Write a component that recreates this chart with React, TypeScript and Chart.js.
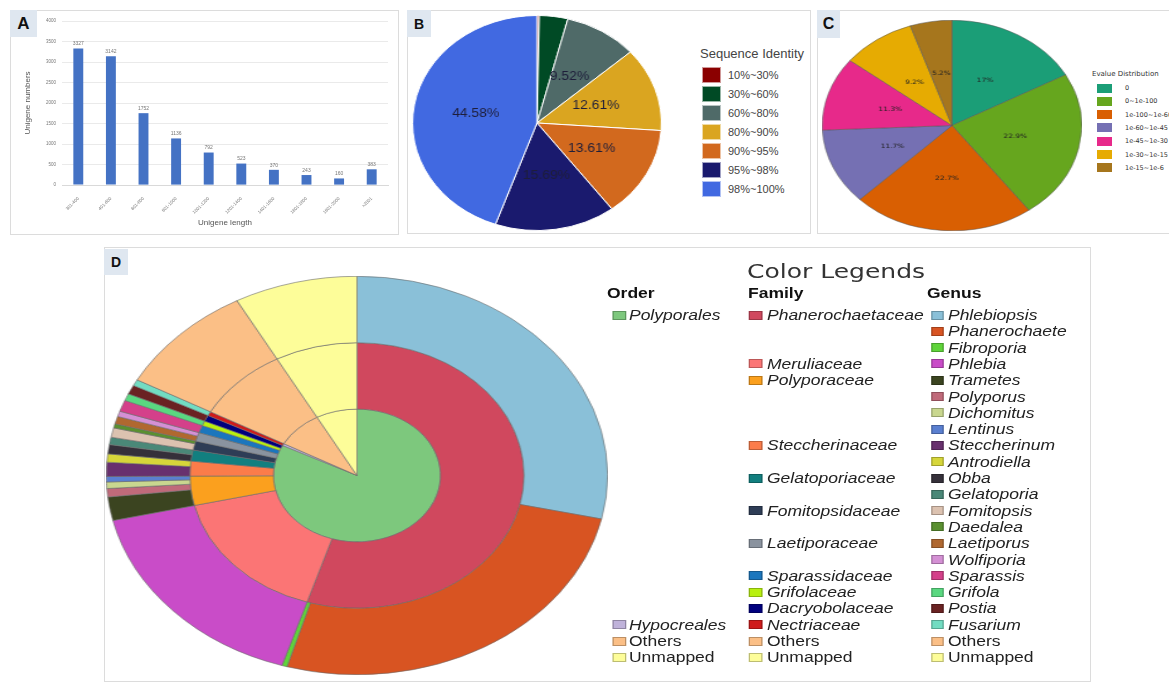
import React, { useEffect, useRef } from "react";
import { Chart, registerables } from "chart.js";

Chart.register(...registerables);
Chart.defaults.font.family = "'Liberation Sans', Arial, sans-serif";

// ---------- Panel A: unigene length distribution ----------
const lengthBins = ["301-400", "401-600", "601-800", "801-1000", "1001-1200", "1201-1400", "1401-1600", "1601-1800", "1801-2000", ">2001"];
const unigeneCounts = [3327, 3142, 1752, 1136, 792, 523, 370, 243, 160, 383];

// ---------- Panel B: sequence identity ----------
const identityBins = ["10%~30%", "30%~60%", "60%~80%", "80%~90%", "90%~95%", "95%~98%", "98%~100%"];
const identityPercents = [0.3, 3.69, 9.52, 12.61, 13.61, 15.69, 44.58];
const identityColors = ["#8b0000", "#004a25", "#4f6a68", "#daa520", "#d2691e", "#1a1a6e", "#4169e1"];

// ---------- Panel C: E-value distribution ----------
const evalueBins = ["0", "0~1e-100", "1e-100~1e-60", "1e-60~1e-45", "1e-45~1e-30", "1e-30~1e-15", "1e-15~1e-6"];
const evaluePercents = [17, 22.9, 22.7, 11.7, 11.3, 9.2, 5.2];
const evalueColors = ["#1b9e77", "#66a61e", "#d95f02", "#7570b3", "#e7298a", "#e6ab02", "#a6761d"];

// ---------- Panel D: taxonomy sunburst ----------
const orderNames = ["Polyporales", "Hypocreales", "Others", "Unmapped"];
const orderValues = [296.85, 1.8, 32.7, 28.6];
const orderColors = ["#7dc87d", "#bfb2da", "#fbbf86", "#fdfd99"];

const familyNames = ["Phanerochaetaceae", "Meruliaceae", "Polyporaceae", "Steccherinaceae", "Gelatoporiaceae", "Fomitopsidaceae", "Laetiporaceae", "Sparassidaceae", "Grifolaceae", "Dacryobolaceae", "Nectriaceae", "Others", "Unmapped"];
const familyValues = [197.4, 59.5, 12.8, 6.5, 4.85, 3.95, 3.8, 3.3, 2.05, 2.7, 1.8, 32.7, 28.6];
const familyColors = ["#d0485e", "#fb7575", "#fba01e", "#fb7c4a", "#127f7f", "#2e3d56", "#8a939f", "#1b76bd", "#b8f010", "#00007e", "#cf1b1b", "#fbbf86", "#fdfd99"];
const familyOrder = ["Polyporales", "Polyporales", "Polyporales", "Polyporales", "Polyporales", "Polyporales", "Polyporales", "Polyporales", "Polyporales", "Polyporales", "Hypocreales", "Others", "Unmapped"];

const genusNames = ["Phlebiopsis", "Phanerochaete", "Fibroporia", "Phlebia", "Trametes", "Polyporus", "Dichomitus", "Lentinus", "Steccherinum", "Antrodiella", "Obba", "Gelatoporia", "Fomitopsis", "Daedalea", "Laetiporus", "Wolfiporia", "Sparassis", "Grifola", "Postia", "Fusarium", "Others", "Unmapped"];
const genusValues = [102.6, 93.6, 1.2, 59.5, 6.85, 2.45, 1.9, 1.6, 4.1, 2.4, 2.7, 2.15, 2.75, 1.2, 2.2, 1.6, 3.3, 2.05, 2.7, 1.8, 32.7, 28.6];
const genusColors = ["#8ac0d8", "#d85422", "#5fd43a", "#c94cc8", "#3b4420", "#c06a7a", "#c9d78f", "#5a7fd0", "#68306e", "#d6d63a", "#35303a", "#4a8878", "#dcc2b0", "#5a9030", "#b06830", "#d490d4", "#d4408a", "#5ad880", "#6a2222", "#72dcc2", "#fbbf86", "#fdfd99"];
const genusFamily = ["Phanerochaetaceae", "Phanerochaetaceae", "Phanerochaetaceae", "Meruliaceae", "Polyporaceae", "Polyporaceae", "Polyporaceae", "Polyporaceae", "Steccherinaceae", "Steccherinaceae", "Gelatoporiaceae", "Gelatoporiaceae", "Fomitopsidaceae", "Fomitopsidaceae", "Laetiporaceae", "Laetiporaceae", "Sparassidaceae", "Grifolaceae", "Dacryobolaceae", "Nectriaceae", "Others", "Unmapped"];

const SANS = "'Liberation Sans', Arial, sans-serif";

function useChart(makeConfig: () => any) {
  const ref = useRef<HTMLCanvasElement | null>(null);
  useEffect(() => {
    if (!ref.current) return;
    const chart = new Chart(ref.current, makeConfig());
    return () => chart.destroy();
  }, []);
  return ref;
}

const barValuePlugin = {
  id: "barValues",
  afterDatasetsDraw(chart: any) {
    const ctx = chart.ctx;
    const meta = chart.getDatasetMeta(0);
    const values = chart.data.datasets[0].data;
    ctx.save();
    ctx.font = `5px ${SANS}`;
    ctx.fillStyle = "#777";
    ctx.textAlign = "center";
    ctx.textBaseline = "bottom";
    meta.data.forEach((el: any, i: number) => {
      ctx.fillText(String(values[i]), el.x, el.y - 2);
    });
    ctx.restore();
  },
};

function sliceLabelPlugin(font: string, color: string, minValue: number, fmt: (v: number) => string) {
  return {
    id: "sliceLabels",
    afterDatasetsDraw(chart: any) {
      const ctx = chart.ctx;
      const meta = chart.getDatasetMeta(0);
      const values = chart.data.datasets[0].data;
      ctx.save();
      ctx.font = font;
      ctx.fillStyle = color;
      ctx.textAlign = "center";
      ctx.textBaseline = "middle";
      meta.data.forEach((el: any, i: number) => {
        if (values[i] < minValue) return;
        const p = el.tooltipPosition(false);
        ctx.fillText(fmt(values[i]), p.x, p.y);
      });
      ctx.restore();
    },
  };
}

function BarPanel() {
  const ref = useChart(() => ({
    type: "bar",
    data: {
      labels: lengthBins,
      datasets: [{ data: unigeneCounts, backgroundColor: "#4472c4", barPercentage: 0.38, categoryPercentage: 0.8 }],
    },
    options: {
      animation: false,
      responsive: false,
      events: [],
      layout: { padding: { top: 11, right: 10, left: 0, bottom: 0 } },
      plugins: { legend: { display: false }, tooltip: { enabled: false } },
      scales: {
        x: {
          grid: { display: false },
          border: { color: "#d9d9d9" },
          ticks: { font: { size: 4.5 }, color: "#777", minRotation: 45, maxRotation: 45, autoSkip: false, padding: 3 },
          title: { display: true, text: "Unigene length", font: { size: 8 }, color: "#555", padding: { top: 0, bottom: 7 } },
          afterFit: (s: any) => { s.height = 50; },
        },
        y: {
          min: 0,
          max: 4000,
          ticks: { stepSize: 500, font: { size: 4.5 }, color: "#777", padding: 6, callback: (v: any) => String(v) },
          grid: { color: "#e4e4e4", drawTicks: false, lineWidth: 0.8 },
          border: { display: false },
          title: { display: true, text: "Unigene numbers", font: { size: 8 }, color: "#555", padding: { top: 13, bottom: 0 } },
          afterFit: (s: any) => { s.width = 52; },
        },
      },
    },
    plugins: [barValuePlugin],
  }));
  return <canvas ref={ref} width={388} height={225} style={{ position: "absolute", left: 10, top: 10, width: 388, height: 225 }} />;
}

function StretchedPie(props: { cx: number; cy: number; rx: number; ry: number; makeConfig: () => any }) {
  const { cx, cy, rx, ry } = props;
  const ref = useChart(props.makeConfig);
  const size = Math.round(ry * 2 + 1);
  return (
    <canvas
      ref={ref}
      width={size}
      height={size}
      style={{ position: "absolute", left: cx - rx, top: cy - ry, width: rx * 2, height: size }}
    />
  );
}

const baseOpts = {
  animation: false,
  responsive: false,
  events: [],
  layout: { padding: 0 },
  plugins: { legend: { display: false }, tooltip: { enabled: false } },
};

function PanelLabel(props: { text: string; left: number; top: number; w: number; h: number; size: number }) {
  return (
    <div
      style={{
        position: "absolute", left: props.left, top: props.top, width: props.w, height: props.h,
        background: "#dfe7f0", display: "flex", alignItems: "center", justifyContent: "center",
        font: `bold ${props.size}px ${SANS}`, color: "#111",
      }}
    >
      {props.text}
    </div>
  );
}

function Frame(props: { left: number; top: number; w: number; h: number }) {
  return (
    <div style={{ position: "absolute", left: props.left, top: props.top, width: props.w, height: props.h, border: "1px solid #dcdcdc", boxSizing: "border-box", background: "#fff" }} />
  );
}

function LegendB() {
  return (
    <div style={{ position: "absolute", left: 0, top: 0 }}>
      <div style={{ position: "absolute", left: 700, top: 46, font: `13px ${SANS}`, color: "#444", whiteSpace: "nowrap" }}>Sequence Identity</div>
      {identityBins.map((b, i) => (
        <div key={b} style={{ position: "absolute", left: 702, top: 75 + 19 * i - 8, height: 16, display: "flex", alignItems: "center", whiteSpace: "nowrap" }}>
          <span style={{ display: "inline-block", width: 19, height: 16, background: identityColors[i], boxSizing: "border-box", border: "1px solid rgba(255,255,255,0.6)" }} />
          <span style={{ marginLeft: 7, font: `11px ${SANS}`, color: "#444" }}>{b}</span>
        </div>
      ))}
    </div>
  );
}

function LegendC() {
  return (
    <div style={{ position: "absolute", left: 0, top: 0 }}>
      <div style={{ position: "absolute", left: 1092, top: 70, font: `7px 'DejaVu Sans', sans-serif`, color: "#333", whiteSpace: "nowrap" }}>Evalue Distribution</div>
      {evalueBins.map((b, i) => (
        <div key={b} style={{ position: "absolute", left: 1097, top: 88 + 13.3 * i - 5, height: 10, display: "flex", alignItems: "center", whiteSpace: "nowrap" }}>
          <span style={{ display: "inline-block", width: 15, height: 9, background: evalueColors[i] }} />
          <span style={{ marginLeft: 13, font: `6.5px 'DejaVu Sans', sans-serif`, color: "#333" }}>{b}</span>
        </div>
      ))}
    </div>
  );
}

const ROW0 = 65;
const ROWH = 16.3;

function LegendItem(props: { x: number; row: number; color: string; text: string; italic: boolean; gap: number }) {
  return (
    <div style={{ position: "absolute", left: props.x, top: ROW0 + ROWH * props.row - 9, height: 18, display: "flex", alignItems: "center", whiteSpace: "nowrap" }}>
      <span style={{ display: "inline-block", width: 10.4, height: 9, background: props.color, boxSizing: "border-box", border: "1px solid rgba(0,0,0,0.25)" }} />
      <span style={{ marginLeft: props.gap, font: `${props.italic ? "italic " : ""}14px ${SANS}`, color: "#222" }}>{props.text}</span>
    </div>
  );
}

function LegendD() {
  const famRows = familyNames.map((f) => genusFamily.indexOf(f));
  const orderRows = orderNames.map((o) => famRows[familyOrder.indexOf(o)]);
  const plain = (t: string) => t === "Others" || t === "Unmapped";
  return (
    <div style={{ position: "absolute", left: 600, top: 250, width: 392, height: 430, transform: "scaleX(1.25)", transformOrigin: "0 0" }}>
      <div style={{ position: "absolute", left: 0, width: 377.6, top: 9, textAlign: "center", font: `20px 'DejaVu Sans', sans-serif`, color: "#333" }}>Color Legends</div>
      <div style={{ position: "absolute", left: 5.6, top: 35, font: `bold 14px ${SANS}`, color: "#111" }}>Order</div>
      <div style={{ position: "absolute", left: 118.4, top: 35, font: `bold 14px ${SANS}`, color: "#111" }}>Family</div>
      <div style={{ position: "absolute", left: 261.6, top: 35, font: `bold 14px ${SANS}`, color: "#111" }}>Genus</div>
      {orderNames.map((n, i) => (
        <LegendItem key={"o" + n} x={10.4} row={orderRows[i]} color={orderColors[i]} text={n} italic={!plain(n)} gap={2.4} />
      ))}
      {familyNames.map((n, i) => (
        <LegendItem key={"f" + n} x={119.2} row={famRows[i]} color={familyColors[i]} text={n} italic={!plain(n)} gap={4} />
      ))}
      {genusNames.map((n, i) => (
        <LegendItem key={"g" + n} x={264.8} row={i} color={genusColors[i]} text={n} italic={!plain(n)} gap={3.2} />
      ))}
    </div>
  );
}

export default function App() {
  return (
    <div style={{ position: "absolute", left: 0, top: 0, width: 1169, height: 683, overflow: "hidden", background: "#fff" }}>
      <Frame left={10} top={10} w={389} h={225} />
      <Frame left={407} top={10} w={404} h={224} />
      <Frame left={817} top={10} w={400} h={224} />
      <Frame left={104} top={247} w={987} h={435} />

      <BarPanel />

      <StretchedPie
        cx={537} cy={122.5} rx={125} ry={107.5}
        makeConfig={() => ({
          type: "pie",
          data: { labels: identityBins, datasets: [{ data: identityPercents, backgroundColor: identityColors, borderColor: "#ffffff", borderWidth: 1, hoverOffset: 0 }] },
          options: baseOpts,
          plugins: [sliceLabelPlugin(`12px ${SANS}`, "#1e1e3a", 5, (v) => v.toFixed(2) + "%")],
        })}
      />
      <LegendB />

      <StretchedPie
        cx={952} cy={125} rx={130} ry={105}
        makeConfig={() => ({
          type: "pie",
          data: { labels: evalueBins, datasets: [{ data: evaluePercents, backgroundColor: evalueColors, borderColor: "#555", borderWidth: 0.5, hoverOffset: 0 }] },
          options: baseOpts,
          plugins: [sliceLabelPlugin(`6px 'DejaVu Sans', sans-serif`, "#222", 0, (v) => v + "%")],
        })}
      />
      <LegendC />

      <StretchedPie
        cx={357} cy={475} rx={251} ry={199}
        makeConfig={() => ({
          type: "doughnut",
          data: {
            labels: genusNames,
            datasets: [
              { data: genusValues, backgroundColor: genusColors, borderColor: "#6a6a6a", borderWidth: 0.6, hoverOffset: 0 },
              { data: familyValues, backgroundColor: familyColors, borderColor: "#6a6a6a", borderWidth: 0.6, hoverOffset: 0 },
              { data: orderValues, backgroundColor: orderColors, borderColor: "#6a6a6a", borderWidth: 0.6, hoverOffset: 0 },
            ],
          },
          options: { ...baseOpts, cutout: 0 },
        })}
      />
      <LegendD />

      <PanelLabel text="A" left={10} top={10} w={27} h={27} size={17} />
      <PanelLabel text="B" left={407} top={10} w={24} h={27} size={14} />
      <PanelLabel text="C" left={817} top={10} w={23} h={28} size={16} />
      <PanelLabel text="D" left={104} top={249} w={24} h={26} size={14} />
    </div>
  );
}
